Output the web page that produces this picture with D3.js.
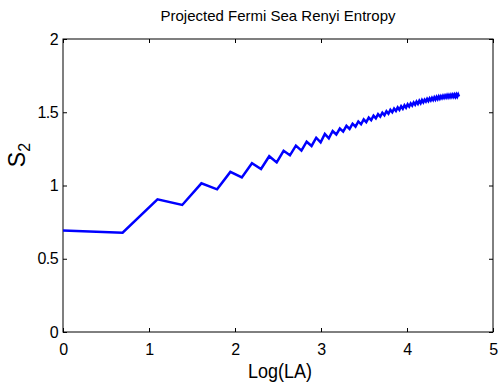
<!DOCTYPE html>
<html>
<head>
<meta charset="utf-8">
<script src="https://cdn.jsdelivr.net/npm/d3@7"></script>
<style>
  body { margin: 0; background: #fff; }
  text { font-family: "Liberation Sans Narrow", "Arial Narrow", "Liberation Sans", sans-serif; }
</style>
</head>
<body>
<script>
    'use strict';

    // subsystem sizes LA = 1..100, x is plotted as log(LA)
    var LA = d3.range(1, 101);
    var S2 = [
        0.693, 0.678, 0.906, 0.867, 1.015, 0.974, 1.093, 1.055, 1.152, 1.113,
        1.200, 1.158, 1.237, 1.206, 1.272, 1.238, 1.299, 1.270, 1.326, 1.295,
        1.352, 1.322, 1.372, 1.348, 1.389, 1.368, 1.407, 1.386, 1.422, 1.402,
        1.437, 1.418, 1.451, 1.432, 1.463, 1.446, 1.476, 1.458, 1.487, 1.470,
        1.497, 1.480, 1.507, 1.490, 1.517, 1.500, 1.525, 1.509, 1.533, 1.517,
        1.541, 1.524, 1.548, 1.531, 1.554, 1.539, 1.560, 1.546, 1.567, 1.552,
        1.573, 1.557, 1.578, 1.562, 1.583, 1.568, 1.586, 1.573, 1.591, 1.577,
        1.595, 1.581, 1.598, 1.584, 1.602, 1.587, 1.605, 1.590, 1.608, 1.593,
        1.609, 1.597, 1.612, 1.599, 1.614, 1.601, 1.616, 1.602, 1.617, 1.604,
        1.618, 1.605, 1.619, 1.606, 1.620, 1.606, 1.621, 1.607, 1.621, 1.607
    ];
    var xTicks = [0, 1, 2, 3, 4, 5];
    var yTicks = [0, 0.5, 1, 1.5, 2];

    var width = 500;
    var height = 385;
    var plotL = 63, plotR = 493, plotT = 39, plotB = 332;

    var x = d3.scaleLinear().domain([0, 5]).range([plotL, plotR]);
    var y = d3.scaleLinear().domain([0, 2]).range([plotB, plotT]);

    var svg = d3.select('body')
        .append('svg')
        .attr('width', width)
        .attr('height', height)
        ;

    // axes with inward ticks on all four sides
    function styleAxis(g) {
        g.select('.domain').remove();
        g.selectAll('.tick line').attr('stroke', '#000');
        g.selectAll('.tick text')
            .attr('fill', '#000')
            .style('font-size', '16px')
            .style('letter-spacing', '-0.6px');
    }

    svg.append('g')
        .attr('transform', 'translate(0,' + plotB + ')')
        .call(d3.axisBottom(x).tickValues(xTicks).tickFormat(d3.format('d'))
            .tickSizeInner(-4).tickPadding(12))
        .call(styleAxis)
        ;
    svg.append('g')
        .attr('transform', 'translate(0,' + plotT + ')')
        .call(d3.axisTop(x).tickValues(xTicks).tickFormat('').tickSizeInner(-4))
        .call(styleAxis)
        ;
    svg.append('g')
        .attr('transform', 'translate(' + plotL + ',0)')
        .call(d3.axisLeft(y).tickValues(yTicks).tickFormat(d3.format('~g'))
            .tickSizeInner(-4).tickPadding(5))
        .call(styleAxis)
        ;
    svg.append('g')
        .attr('transform', 'translate(' + plotR + ',0)')
        .call(d3.axisRight(y).tickValues(yTicks).tickFormat('').tickSizeInner(-4))
        .call(styleAxis)
        ;

    svg.append('rect')
        .attr('x', plotL)
        .attr('y', plotT)
        .attr('width', plotR - plotL)
        .attr('height', plotB - plotT)
        .attr('fill', 'none')
        .attr('stroke', '#000')
        .attr('stroke-width', 1)
        ;

    var line = d3.line()
        .x(function (d, i) { return x(Math.log(LA[i])); })
        .y(function (d) { return y(d); })
        ;

    svg.append('path')
        .datum(S2)
        .attr('d', line)
        .attr('fill', 'none')
        .attr('stroke', '#0000ff')
        .attr('stroke-width', 2.5)
        .attr('stroke-linejoin', 'miter')
        ;

    svg.append('text')
        .attr('x', (plotL + plotR) / 2)
        .attr('y', 20.5)
        .attr('text-anchor', 'middle')
        .attr('textLength', 235)
        .attr('lengthAdjust', 'spacingAndGlyphs')
        .style('font-size', '15px')
        .text('Projected Fermi Sea Renyi Entropy')
        ;

    svg.append('text')
        .attr('x', (plotL + plotR) / 2 + 2)
        .attr('y', 378)
        .attr('text-anchor', 'middle')
        .attr('textLength', 64)
        .attr('lengthAdjust', 'spacingAndGlyphs')
        .style('font-size', '21px')
        .text('Log(LA)')
        ;

    var ylab = svg.append('text')
        .attr('transform', 'translate(25,155) rotate(-90)')
        .attr('text-anchor', 'middle')
        .style('font-size', '23px')
        ;
    ylab.append('tspan').text('S');
    ylab.append('tspan')
        .attr('dy', 5)
        .style('font-size', '16px')
        .text('2');
</script>
</body>
</html>
